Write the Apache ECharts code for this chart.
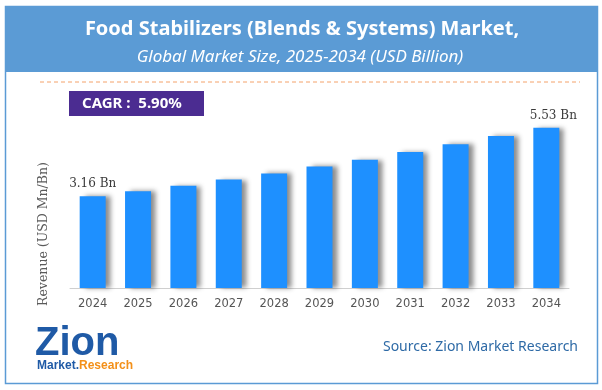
<!DOCTYPE html>
<html>
<head>
<meta charset="utf-8">
<script src="https://cdn.jsdelivr.net/npm/echarts@6/dist/echarts.min.js"></script>
<style>html,body{margin:0;padding:0;background:#fff;}#c{width:602px;height:390px;}</style>
</head>
<body>
<div id="c"></div>
<script>
const years = ['2024','2025','2026','2027','2028','2029','2030','2031','2032','2033','2034'];
const revenue = [3.16, 3.34, 3.53, 3.74, 3.95, 4.19, 4.42, 4.69, 4.96, 5.24, 5.53];
const labelText = ['3.16 Bn','','','','','','','','','','5.53 Bn'];

const barData = revenue.map((v, i) => ({
  value: v,
  label: {offset: [i === revenue.length - 1 ? 7 : 0, 0]}
}));

const chart = echarts.init(document.getElementById('c'));
chart.setOption({
  animation: false,
  backgroundColor: '#ffffff',
  grid: {left: 70, right: 33, top: 114, bottom: 102},
  xAxis: {
    type: 'category', data: years,
    axisLine: {lineStyle: {color: '#cfcfcf', width: 1}},
    axisTick: {show: false},
    axisLabel: {color: '#555', fontFamily: 'DejaVu Sans', fontSize: 11.5, margin: 10}
  },
  yAxis: {
    type: 'value', min: 0, max: 6,
    show: false, splitLine: {show: false}
  },
  series: [{
    type: 'bar', data: barData, barWidth: 26,
    itemStyle: {color: '#1e90ff', shadowColor: 'rgba(0,0,0,0.45)', shadowBlur: 5, shadowOffsetX: 5, shadowOffsetY: 0},
    label: {
      show: true, position: 'top', distance: 6,
      formatter: p => labelText[p.dataIndex],
      color: '#3a3a3a', fontFamily: 'DejaVu Serif', fontSize: 12
    }
  }],
  graphic: [
    {type: 'rect', shape: {x: 5.5, y: 6.5, width: 592, height: 377}, style: {fill: 'none', stroke: '#5b9bd5', lineWidth: 1.5}, z: 1},
    {type: 'rect', shape: {x: 5, y: 6, width: 593, height: 66}, style: {fill: '#5b9bd5'}, z: 2},
    {type: 'text', x: 302, y: 29, style: {text: 'Food Stabilizers (Blends & Systems) Market,', fill: '#fff', font: 'bold 20px "Noto Sans"', textAlign: 'center', textVerticalAlign: 'middle'}, z: 3},
    {type: 'text', x: 300, y: 57, style: {text: 'Global Market Size, 2025-2034 (USD Billion)', fill: '#fff', font: 'italic 17px "Noto Sans"', textAlign: 'center', textVerticalAlign: 'middle'}, z: 3},
    {type: 'line', shape: {x1: 40, y1: 82, x2: 580, y2: 82}, style: {stroke: '#f4a26a', lineWidth: 1, lineDash: [4, 3]}, z: 3},
    {type: 'rect', shape: {x: 69, y: 91, width: 135, height: 25}, style: {fill: '#4b2c91'}, z: 3},
    {type: 'text', x: 82, y: 104, style: {text: 'CAGR :  5.90%', fill: '#fff', font: 'bold 15px "Noto Sans"', textAlign: 'left', textVerticalAlign: 'middle'}, z: 4},
    {type: 'text', x: 44, y: 234, rotation: Math.PI / 2, style: {text: 'Revenue (USD Mn/Bn)', fill: '#5a5a5a', font: '12.5px "DejaVu Serif"', textAlign: 'center', textVerticalAlign: 'middle'}, z: 3},
    {type: 'text', x: 578, y: 347, style: {text: 'Source: Zion Market Research', fill: '#2e6aa6', font: '14px "Noto Sans"', textAlign: 'right', textVerticalAlign: 'middle'}, z: 3},
    {type: 'text', x: 35, y: 344, style: {text: 'Zion', fill: '#1f5aa6', font: 'bold 40px "Liberation Sans"', textAlign: 'left', textVerticalAlign: 'middle'}, z: 3},
    {type: 'text', x: 37, y: 366, style: {text: '{a|Market.}{b|Research}', textAlign: 'left', textVerticalAlign: 'middle',
      rich: {a: {fill: '#1f5aa6', font: 'bold 12px "Liberation Sans"'}, b: {fill: '#f39019', font: 'bold 12px "Liberation Sans"'}}}, z: 3}
  ]
});
</script>
</body>
</html>
